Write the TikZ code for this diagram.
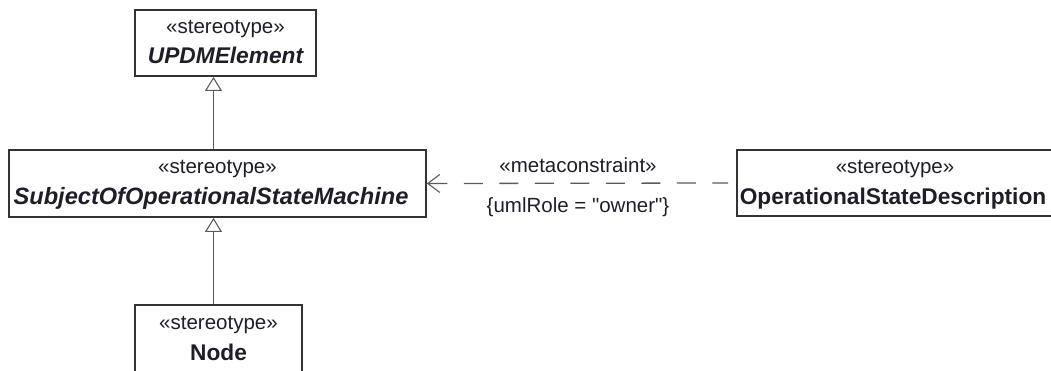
\documentclass[tikz,border=0pt]{standalone}
\usepackage{fontspec}
\setmainfont{Liberation Sans}
\usetikzlibrary{arrows.meta}
\definecolor{boxline}{HTML}{333333}
\definecolor{conline}{HTML}{5A5A5A}
\definecolor{txt}{HTML}{1E1E28}
\newcommand{\stereofont}{\fontsize{20.5}{22}\selectfont}
\newcommand{\namefont}{\fontsize{22.7}{24}\selectfont\bfseries}
\newcommand{\plainquote}{\XeTeXglyph\XeTeXcharglyph"22\relax}
\tikzset{
  umlbox/.style={draw=boxline, line width=1.8pt, fill=white, rectangle, inner sep=0pt},
  st/.style={text=txt, inner sep=0pt, anchor=base, font=\stereofont},
  nm/.style={text=txt, inner sep=0pt, anchor=base, font=\namefont},
  gen/.style={draw=conline, line width=1.3pt, -{Triangle[open, length=14pt, width=17pt, line width=1.1pt]}},
  dep/.style={draw=conline, line width=1.3pt, dash pattern=on 19pt off 16.5pt, shorten >=8pt, {Straight Barb[length=12pt, width=18pt, line width=1.1pt]}-},
}
\begin{document}
\begin{tikzpicture}[x=1pt, y=-1pt]
\useasboundingbox (0,0) rectangle (1051,371);
\coordinate (ax) at (213.5,0);
% boxes
\node[umlbox, minimum width=181, minimum height=66] (updm) at (225.5,43) {};
\node[umlbox, minimum width=417, minimum height=67] (subj) at (217.5,183.5) {};
\node[umlbox, minimum width=322, minimum height=66] (osd) at (898,183) {};
\node[umlbox, minimum width=167, minimum height=90] (nd) at (218.5,350) {};
% texts
\node[st] (updmst) at (225.5,34) {«stereotype»};
\node[nm, font=\namefont\itshape] (updmnm) at (225.5,64) {UPDMElement};
\node[st] (subjst) at (217.5,174) {«stereotype»};
\node[nm, font=\fontsize{23.6}{25}\selectfont\bfseries\itshape] (subjnm) at (211,205) {SubjectOfOperationalStateMachine};
\node[st] (osdst) at (895,174) {«stereotype»};
\node[nm] (osdnm) at (893,205) {OperationalStateDescription};
\node[st] (ndst) at (218.5,329) {«stereotype»};
\node[nm] (ndnm) at (218.5,360) {Node};
% connectors
\draw[gen] (subj.north -| ax) -- (updm.south -| ax);
\draw[gen] (nd.north -| ax) -- (subj.south -| ax);
\draw[dep] (subj.east) -- (osd.west);
\node[st] (mc) at (578,173) {«metaconstraint»};
\node[st] (role) at (578,213) {\{umlRole = \plainquote owner\plainquote\}};
\end{tikzpicture}
\end{document}
